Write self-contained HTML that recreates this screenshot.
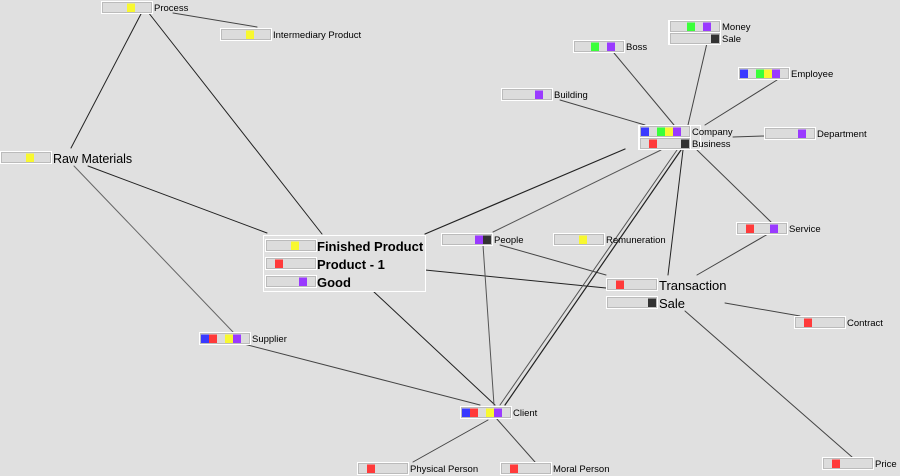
<!DOCTYPE html>
<html><head><meta charset="utf-8"><style>
html,body{margin:0;padding:0;background:#e0e0e0;width:900px;height:476px;overflow:hidden}
svg{display:block}
text{font-family:"Liberation Sans",sans-serif;fill:#000}
</style></head><body>
<svg id="s" width="900" height="476" xmlns="http://www.w3.org/2000/svg">
<g id="e" stroke-linecap="round"></g><g id="n"></g>
</svg>
<script>
var NS="http://www.w3.org/2000/svg";
function el(p,t,a,txt){var e=document.createElementNS(NS,t);for(var k in a)e.setAttribute(k,a[k]);if(txt)e.textContent=txt;document.getElementById(p).appendChild(e);return e;}
var E=[[142,12,71,148,'#222',1],[148,12,322,234,'#222',1],[173,13,257,27,'#444',1],[88,166,267,233,'#222',1],[74,166,233,332,'#666',1],
[425,234,625,149,'#222',1.2],[425,270,606,288,'#222',1],[373,291,495,405,'#222',1],[493,232,661,150,'#555',1],[483,245,494,405,'#555',1],
[500,245,606,275,'#444',1],[677,150,500,405,'#555',1],[681,150,505,405,'#222',1.2],[674,125,614,53,'#444',1],[688,125,707,43,'#444',1],
[705,125,777,80,'#444',1],[733,137,764,136,'#444',1],[645,125,560,100,'#444',1],[683,150,668,275,'#222',1],[697,150,771,222,'#444',1],
[768,234,697,275,'#444',1],[725,303,800,316,'#444',1],[685,311,852,457,'#444',1],[240,343,480,405,'#444',1],[488,420,413,462,'#444',1],[496,418,535,462,'#444',1]];
E.forEach(function(l){el('e','line',{x1:l[0],y1:l[1],x2:l[2],y2:l[3],stroke:l[4],'stroke-width':l[5]});});
var C={b:'#3a3aff',r:'#ff3a3a',g:'#3aff3a',y:'#f8f830',p:'#9a3aff',k:'#333'},O='brgypk';
function bar(x,y,cs){el('n','rect',{x:x+0.5,y:y+0.5,width:51,height:12,fill:'#dcdcdc',stroke:'#fff'});
el('n','rect',{x:x+1.5,y:y+1.5,width:49,height:10,fill:'none',stroke:'#bbb'});
for(var i=0;i<cs.length;i++){var j=O.indexOf(cs[i]);el('n','rect',{x:x+2+j*8,y:y+2.5,width:8,height:8.5,fill:C[cs[i]]});}}
function lab(x,y,t,s,b){el('n','text',{x:x,y:y,'font-size':s||9.5,'font-weight':b?'bold':'normal'},t);}
function node(x,y,cs,t,s,b){bar(x,y,cs);lab(x+53,y+10+(s?2:0),t,s,b);}
el('n','rect',{x:263.5,y:235.5,width:162,height:56,fill:'#e0e0e0',stroke:'#fff'});
el('n','rect',{x:638.5,y:125.5,width:62,height:24,fill:'none',stroke:'#fff'});
el('n','rect',{x:668.5,y:20.5,width:52,height:24,fill:'none',stroke:'#fff'});
node(101,1,'y','Process');node(220,28,'y','Intermediary Product');
node(0,151,'y','Raw Materials',12.5);
bar(265,239,'y');lab(317,251,'Finished Product',13,1);
bar(265,257,'r');lab(317,269,'Product - 1',13,1);
bar(265,275,'p');lab(317,287,'Good',13,1);
node(573,40,'gp','Boss');node(669,20,'gp','Money');node(669,32,'k','Sale');
node(738,67,'bgyp','Employee');node(501,88,'p','Building');
node(639,125,'bgyp','Company');node(639,137,'rk','Business');
node(764,127,'p','Department');node(441,233,'pk','People');node(553,233,'y','Remuneration');
node(736,222,'rp','Service');node(606,278,'r','Transaction',13);node(606,296,'k','Sale',13);
node(794,316,'r','Contract');node(199,332,'bryp','Supplier');node(460,406,'bryp','Client');
node(357,462,'r','Physical Person');node(500,462,'r','Moral Person');node(822,457,'r','Price');
</script>
</body></html>
